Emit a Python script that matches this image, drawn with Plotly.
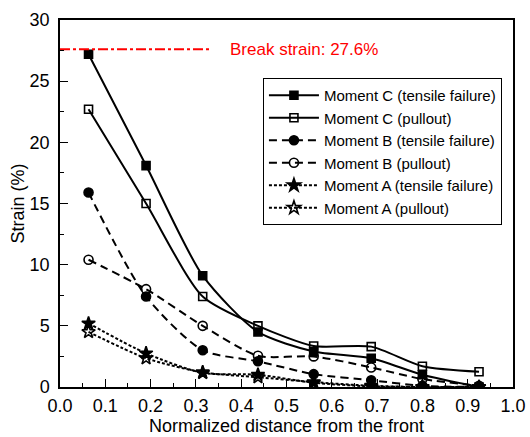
import plotly.graph_objects as go

x = [0.063, 0.19, 0.315, 0.437, 0.56, 0.687, 0.80, 0.925]

c_tensile = [27.2, 18.1, 9.1, 4.5, 2.9, 2.35, 1.0, 0.0]
c_pullout = [22.7, 15.0, 7.4, 5.0, 3.35, 3.3, 1.7, 1.25]
b_tensile = [15.9, 7.4, 3.0, 2.1, 1.05, 0.55, 0.1, 0.0]
b_pullout = [10.4, 8.0, 5.0, 2.55, 2.5, 1.6, 0.65, 0.1]
a_tensile = [5.2, 2.75, 1.15, 1.0, 0.35, 0.05, 0.0, 0.0]
a_pullout = [4.5, 2.35, 1.2, 0.8, 0.4, 0.1, 0.0, 0.0]

break_strain = 27.6
break_x = [0.0, 0.335]

FONT = "Liberation Sans, Arial"

series = [
    ("Moment C (tensile failure)", c_tensile, "solid", "square", 8),
    ("Moment C (pullout)", c_pullout, "solid", "square-open", 8),
    ("Moment B (tensile failure)", b_tensile, "8px,5px", "circle", 9),
    ("Moment B (pullout)", b_pullout, "8px,5px", "circle-open", 9),
    ("Moment A (tensile failure)", a_tensile, "3px,2px", "star", 10),
    ("Moment A (pullout)", a_pullout, "3px,2px", "star-open", 10),
]

fig = go.Figure()
for name, y, dash, sym, sz in series:
    fig.add_trace(go.Scatter(
        x=x, y=y, name=name, mode="lines+markers",
        line=dict(color="black", width=2, dash=dash, shape="spline", smoothing=0.7),
        marker=dict(symbol=sym, size=sz, color="black",
                    line=dict(color="black", width=1.6)),
    ))

fig.add_trace(go.Scatter(
    x=break_x, y=[break_strain, break_strain], mode="lines", showlegend=False,
    line=dict(color="red", width=2, dash="10px,3px,3px,3px"),
))
fig.add_annotation(x=0.37, y=break_strain, text="Break strain: 27.6%",
                   showarrow=False, xanchor="left", yanchor="middle",
                   font=dict(color="red", size=17, family=FONT))

axis_common = dict(
    showline=True, linecolor="black", linewidth=1.5, mirror=True,
    ticks="inside", ticklen=8, tickwidth=1.2, tickcolor="black",
    showgrid=False, zeroline=False, automargin=False,
    tickfont=dict(size=18, family=FONT, color="black"),
)

fig.update_xaxes(range=[0, 1.0], dtick=0.1, tickformat=".1f", ticklabelstandoff=2,
                 minor=dict(ticks="inside", ticklen=4, dtick=0.05, tickcolor="black"),
                 title=dict(text="Normalized distance from the front", standoff=0,
                            font=dict(size=18, family=FONT, color="black")),
                 **axis_common)
fig.update_yaxes(range=[0, 30], dtick=5, ticklabelstandoff=5,
                 minor=dict(ticks="inside", ticklen=4, dtick=2.5, tickcolor="black"),
                 title=dict(text="Strain (%)", standoff=0,
                            font=dict(size=18, family=FONT, color="black")),
                 **axis_common)

fig.update_layout(
    width=530, height=437,
    margin=dict(l=60, r=17, t=20, b=50),
    plot_bgcolor="white", paper_bgcolor="white",
    legend=dict(x=0.448, y=0.842, xanchor="left", yanchor="top",
                bordercolor="black", borderwidth=1, bgcolor="white",
                font=dict(size=15, family=FONT, color="black"),
                tracegroupgap=0, itemwidth=50),
)

fig.write_html("out.html")
